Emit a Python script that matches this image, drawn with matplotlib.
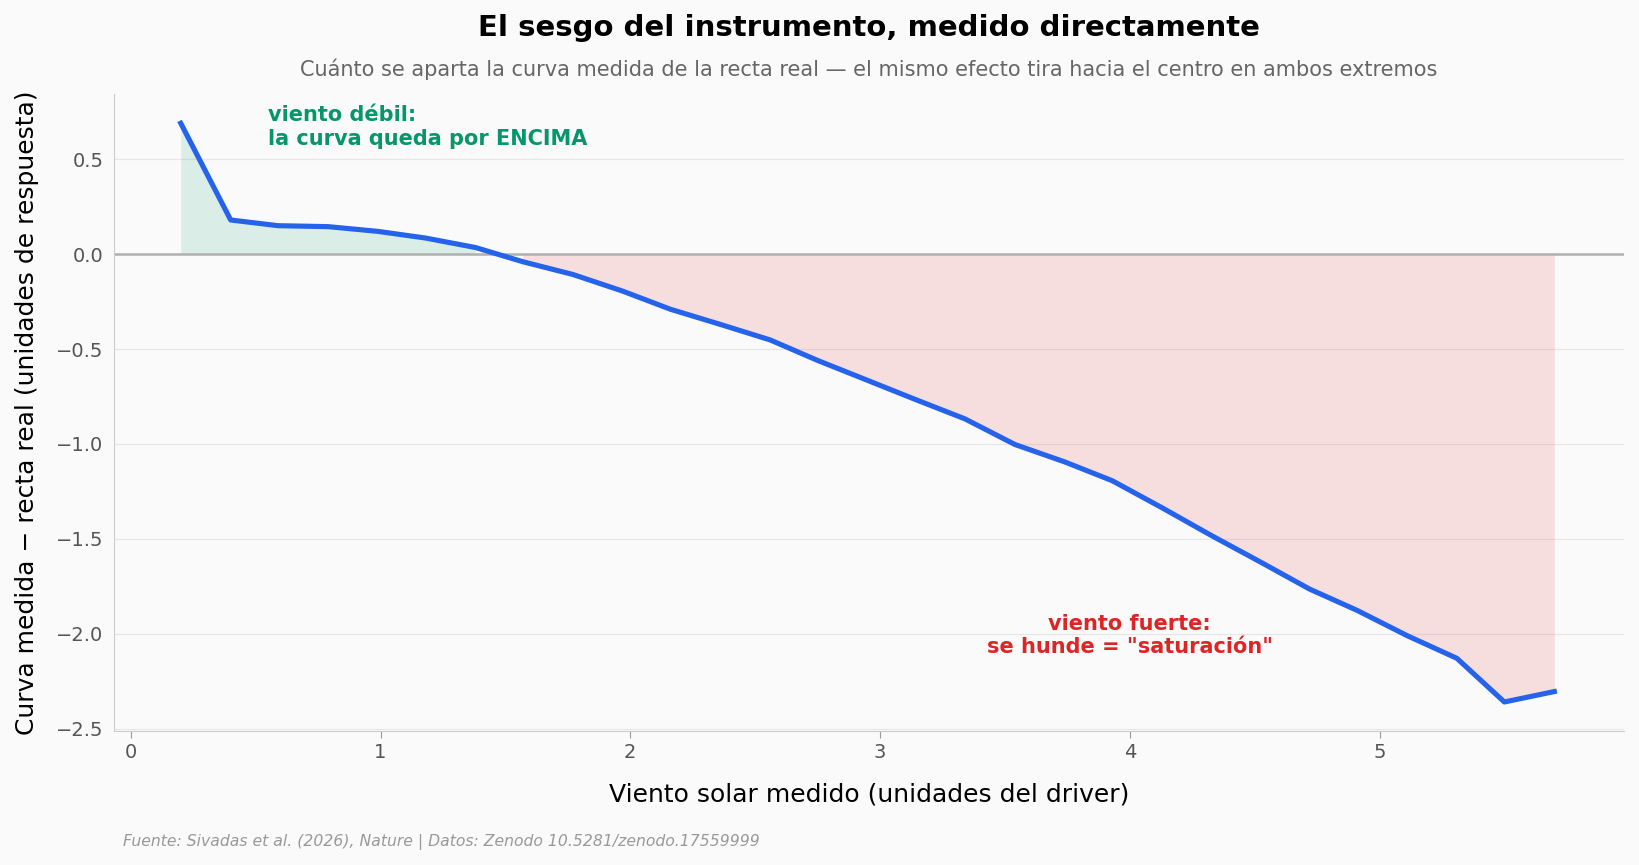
import matplotlib
matplotlib.use("Agg")
import matplotlib.pyplot as plt
import numpy as np

# viento solar medido (unidades del driver)
viento = [0.20, 0.40, 0.59, 0.79, 0.99, 1.18, 1.38, 1.57, 1.77, 1.97,
          2.16, 2.36, 2.56, 2.75, 2.95, 3.14, 3.34, 3.54, 3.74, 3.93,
          4.13, 4.33, 4.52, 4.72, 4.91, 5.11, 5.31, 5.50, 5.70]
# curva medida - recta real
sesgo = [0.69, 0.18, 0.15, 0.145, 0.12, 0.085, 0.035, -0.04, -0.107, -0.195,
         -0.29, -0.37, -0.452, -0.56, -0.665, -0.765, -0.868, -1.003, -1.095, -1.194,
         -1.337, -1.485, -1.62, -1.765, -1.877, -2.01, -2.13, -2.36, -2.305]

titulo = "El sesgo del instrumento, medido directamente"
subtitulo = "Cuánto se aparta la curva medida de la recta real — el mismo efecto tira hacia el centro en ambos extremos"
fuente = "Fuente: Sivadas et al. (2026), Nature | Datos: Zenodo 10.5281/zenodo.17559999"

azul = "#2563EB"
verde = "#059669"
rojo = "#DC2626"
fondo = "#FAFAFA"

x = np.array(viento)
y = np.array(sesgo)

fig = plt.figure(figsize=(16.39, 8.65), dpi=100, facecolor=fondo)
ax = fig.add_axes([0.0696, 0.155, 0.9214, 0.736])
ax.set_facecolor(fondo)

ax.fill_between(x, 0, y, where=y >= 0, color=verde, alpha=0.13, linewidth=0)
ax.fill_between(x, 0, y, where=y < 0, color=rojo, alpha=0.13, linewidth=0)
ax.axhline(0, color="#b0b0b0", lw=1.8, zorder=2)
ax.plot(x, y, color=azul, lw=3.7, zorder=3)

ax.text(0.55, 0.67, "viento débil:\nla curva queda por ENCIMA", color=verde,
        fontsize=15, fontweight="bold", ha="left", va="center")
ax.text(4.0, -2.01, "viento fuerte:\nse hunde = \"saturación\"", color=rojo,
        fontsize=15, fontweight="bold", ha="center", va="center",
        multialignment="center")

ax.set_xlim(-0.067, 5.98)
ax.grid(axis="y", color="#e6e6e6", lw=0.8)
ax.set_axisbelow(True)
for s in ["top", "right"]:
    ax.spines[s].set_visible(False)
for s in ["left", "bottom"]:
    ax.spines[s].set_color("#cccccc")
ax.tick_params(axis="y", length=0, labelsize=14, labelcolor="#555555", pad=7.5)
ax.tick_params(axis="x", length=5, color="#999999", labelsize=14, labelcolor="#555555")

ax.set_xlabel("Viento solar medido (unidades del driver)", fontsize=18, labelpad=15)
ax.set_ylabel("Curva medida − recta real (unidades de respuesta)", fontsize=18, labelpad=12)

fig.text(0.530, 0.968, titulo, fontsize=21, fontweight="bold", ha="center", va="center")
fig.text(0.530, 0.920, subtitulo, fontsize=15, color="#666666", ha="center", va="center")
fig.text(0.075, 0.027, fuente, fontsize=11.25, color="#999999", style="italic",
         ha="left", va="center")

fig.savefig("out.png", dpi=100, facecolor=fondo)
